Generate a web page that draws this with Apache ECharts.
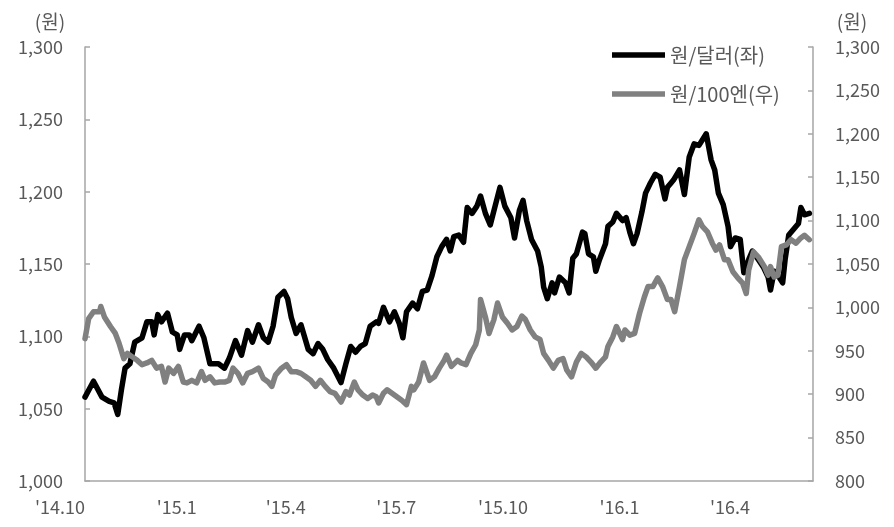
<!DOCTYPE html>
<html>
<head>
<meta charset="utf-8">
<script src="https://cdn.jsdelivr.net/npm/echarts@6/dist/echarts.min.js"></script>
<style>
html,body{margin:0;padding:0;background:#fff;}
#chart{width:894px;height:527px;}
</style>
</head>
<body>
<div id="chart"></div>
<script>
// ---- data ----
const seriesNames = ['원/달러(좌)', '원/100엔(우)'];

const usdDates = [
'2014-10-01','2014-10-08','2014-10-15','2014-10-21','2014-10-25','2014-10-28','2014-10-31','2014-11-03','2014-11-07','2014-11-11',
'2014-11-17','2014-11-21','2014-11-25','2014-11-27','2014-11-30','2014-12-03','2014-12-08','2014-12-12','2014-12-16','2014-12-18',
'2014-12-22','2014-12-26','2014-12-28','2015-01-03','2015-01-07','2015-01-12','2015-01-19','2015-01-24','2015-01-28','2015-02-02',
'2015-02-07','2015-02-12','2015-02-16','2015-02-21','2015-02-25','2015-03-01','2015-03-05','2015-03-09','2015-03-14','2015-03-17',
'2015-03-20','2015-03-24','2015-03-28','2015-04-03','2015-04-07','2015-04-11','2015-04-15','2015-04-19','2015-04-24','2015-04-30',
'2015-05-04','2015-05-08','2015-05-12','2015-05-16','2015-05-20','2015-05-24','2015-05-29','2015-05-31','2015-06-04','2015-06-09',
'2015-06-13','2015-06-17','2015-06-20','2015-06-23','2015-06-28','2015-07-02','2015-07-06','2015-07-10','2015-07-14','2015-07-18',
'2015-07-22','2015-07-26','2015-07-29','2015-08-01','2015-08-05','2015-08-09','2015-08-12','2015-08-16','2015-08-20','2015-08-23',
'2015-08-27','2015-08-31','2015-09-04','2015-09-08','2015-09-12','2015-09-17','2015-09-20','2015-09-24','2015-09-27','2015-09-30',
'2015-10-04','2015-10-09','2015-10-12','2015-10-14','2015-10-17','2015-10-21','2015-10-23','2015-10-27','2015-11-01','2015-11-04',
'2015-11-07','2015-11-10','2015-11-15','2015-11-17','2015-11-20','2015-11-24','2015-11-26','2015-11-29','2015-12-04','2015-12-06',
'2015-12-10','2015-12-13','2015-12-18','2015-12-21','2015-12-24','2015-12-27','2015-12-30','2016-01-03','2016-01-06','2016-01-10',
'2016-01-14','2016-01-18','2016-01-22','2016-01-24','2016-01-27','2016-01-29','2016-02-03','2016-02-07','2016-02-11','2016-02-15',
'2016-02-19','2016-02-25','2016-02-29','2016-03-03','2016-03-06','2016-03-10','2016-03-14','2016-03-16','2016-03-20','2016-03-24',
'2016-03-27','2016-03-31','2016-04-03','2016-04-08','2016-04-12','2016-04-16','2016-04-18','2016-04-21','2016-04-25','2016-04-28',
'2016-04-30','2016-05-03','2016-05-07','2016-05-11','2016-05-13','2016-05-16','2016-05-20'
];
const usdValues = [
1058,1069,1058,1055,1054,1046,1063,1078,1081,1096,
1099,1110,1110,1101,1115,1110,1116,1103,1101,1091,
1101,1101,1097,1107,1099,1081,1081,1078,1085,1097,
1087,1104,1096,1108,1099,1096,1107,1127,1131,1126,
1113,1102,1108,1091,1088,1095,1091,1084,1078,1068,
1081,1093,1089,1093,1095,1107,1110,1109,1120,1110,
1117,1109,1099,1117,1123,1119,1131,1132,1142,1155,
1162,1167,1159,1169,1170,1165,1189,1185,1190,1197,
1185,1177,1190,1203,1190,1182,1168,1187,1194,1180,
1167,1159,1148,1134,1126,1137,1130,1141,1137,1130,
1154,1157,1172,1171,1157,1155,1145,1153,1164,1176,
1179,1185,1180,1182,1172,1164,1171,1186,1199,1206,
1212,1210,1195,1203,1206,1208,1215,1198,1224,1233,
1232,1240,1222,1215,1199,1191,1176,1162,1168,1167,
1144,1153,1159,1153,1148,1141,1132,1145,1141,1137,
1153,1170,1174,1178,1189,1184,1185
];

const jpyDates = [
'2014-10-01','2014-10-04','2014-10-08','2014-10-13','2014-10-14','2014-10-17','2014-10-22','2014-10-26','2014-10-29','2014-11-02',
'2014-11-05','2014-11-09','2014-11-13','2014-11-17','2014-11-21','2014-11-25','2014-11-29','2014-12-03','2014-12-06','2014-12-09',
'2014-12-13','2014-12-17','2014-12-21','2014-12-24','2014-12-28','2015-01-01','2015-01-05','2015-01-08','2015-01-12','2015-01-16',
'2015-01-20','2015-01-24','2015-01-28','2015-01-31','2015-02-04','2015-02-08','2015-02-12','2015-02-16','2015-02-21','2015-02-25',
'2015-03-01','2015-03-04','2015-03-07','2015-03-12','2015-03-16','2015-03-20','2015-03-24','2015-03-28','2015-04-01','2015-04-05',
'2015-04-09','2015-04-13','2015-04-17','2015-04-21','2015-04-25','2015-04-30','2015-05-04','2015-05-07','2015-05-11','2015-05-14',
'2015-05-18','2015-05-22','2015-05-26','2015-05-29','2015-05-31','2015-06-04','2015-06-07','2015-06-11','2015-06-15','2015-06-19',
'2015-06-23','2015-06-27','2015-06-29','2015-07-03','2015-07-07','2015-07-12','2015-07-16','2015-07-20','2015-07-24','2015-07-26',
'2015-07-30','2015-08-04','2015-08-07','2015-08-11','2015-08-15','2015-08-19','2015-08-22','2015-08-23','2015-08-27','2015-08-30',
'2015-09-03','2015-09-06','2015-09-10','2015-09-14','2015-09-18','2015-09-22','2015-09-26','2015-09-29','2015-10-03','2015-10-07',
'2015-10-11','2015-10-14','2015-10-18','2015-10-22','2015-10-26','2015-10-30','2015-11-02','2015-11-06','2015-11-10','2015-11-14',
'2015-11-18','2015-11-22','2015-11-26','2015-11-30','2015-12-04','2015-12-06','2015-12-10','2015-12-13','2015-12-18','2015-12-20',
'2015-12-24','2015-12-28','2016-01-01','2016-01-05','2016-01-08','2016-01-12','2016-01-16','2016-01-20','2016-01-24','2016-01-27',
'2016-01-30','2016-02-03','2016-02-07','2016-02-11','2016-02-15','2016-02-19','2016-02-22','2016-02-26','2016-03-01','2016-03-04',
'2016-03-07','2016-03-11','2016-03-14','2016-03-18','2016-03-22','2016-03-26','2016-03-29','2016-03-31','2016-04-04','2016-04-08',
'2016-04-13','2016-04-16','2016-04-18','2016-04-21','2016-04-24','2016-04-27','2016-05-01','2016-05-05','2016-05-09','2016-05-13',
'2016-05-16','2016-05-20'
];
const jpyValues = [
964,987,995,995,1001,989,978,970,959,941,
947,943,939,934,936,939,930,932,914,930,
924,932,914,913,916,913,926,916,920,913,
914,914,916,930,924,913,924,926,930,918,
914,909,922,930,934,926,926,924,920,916,
909,916,909,903,901,891,903,899,914,905,
899,895,899,897,890,901,905,901,897,893,
888,909,905,914,936,916,920,930,939,945,
932,939,936,934,947,957,974,1009,989,970,
986,1005,989,982,974,978,990,986,974,966,
963,947,939,930,939,941,928,920,937,947,
943,937,930,937,943,955,966,978,963,974,
968,970,993,1012,1024,1024,1034,1024,1009,1009,
995,1024,1055,1070,1085,1101,1093,1087,1074,1066,
1072,1055,1055,1041,1034,1028,1016,1043,1064,1058,
1047,1037,1047,1035,1037,1070,1072,1078,1074,1080,
1083,1078
];

const xStart = '2014-10-01';
const xEnd = '2016-05-23';
const tickDates = ['2014-10-01','2015-01-01','2015-04-01','2015-07-01','2015-10-01','2016-01-01','2016-04-01'];
const tickLabels = ["'14.10","'15.1","'15.4","'15.7","'15.10","'16.1","'16.4"];
const leftMin = 1000, leftMax = 1300, leftStep = 50;
const rightMin = 800, rightMax = 1300, rightStep = 50;
const unitLabel = '(원)';

// ---- chart ----
function toTime(s){
  const p = s.split('-').map(Number);
  return Date.UTC(p[0], p[1]-1, p[2]);
}
const tickTimes = tickDates.map(toTime);
const usdData = usdDates.map((d,i)=>[toTime(d), usdValues[i]]);
const jpyData = jpyDates.map((d,i)=>[toTime(d), jpyValues[i]]);

const FONT = '"Noto Sans CJK KR", "Noto Sans", sans-serif';
const TXT = '#595959';
const AXIS = '#a6a6a6';
const fmtNum = v => Number(v).toLocaleString('en-US');

const chart = echarts.init(document.getElementById('chart'), null, {renderer:'canvas'});
chart.setOption({
  backgroundColor:'#ffffff',
  animation:false,
  textStyle:{fontFamily:FONT},
  grid:{left:85, right:81, top:47, bottom:46, containLabel:false},
  legend:{
    orient:'vertical',
    left:607, top:40,
    itemWidth:53, itemHeight:24, itemGap:19,
    textStyle:{fontFamily:FONT, fontSize:20, color:TXT},
    data:[
      {name:seriesNames[0], icon:'path://M0,0H10V1H0Z', itemStyle:{color:'#000000'}},
      {name:seriesNames[1], icon:'path://M0,0H10V1H0Z', itemStyle:{color:'#808080'}}
    ]
  },
  xAxis:{
    type:'value',
    min:toTime(xStart), max:toTime(xEnd),
    axisLine:{show:true, lineStyle:{color:AXIS, width:1.5}},
    axisTick:{show:false},
    splitLine:{show:false},
    axisLabel:{
      customValues:tickTimes,
      formatter:function(v){
        let best=0, bd=Infinity;
        tickTimes.forEach((t,i)=>{const d=Math.abs(t-v); if(d<bd){bd=d;best=i;}});
        return tickLabels[best];
      },
      align:'right',
      margin:17,
      fontFamily:FONT, fontSize:18, color:TXT
    }
  },
  yAxis:[
    {
      type:'value', position:'left',
      min:leftMin, max:leftMax, interval:leftStep,
      name:unitLabel, nameLocation:'end', nameGap:16,
      nameTextStyle:{fontFamily:FONT, fontSize:19, color:TXT, align:'center', padding:[0,70,0,0]},
      axisLine:{show:true, lineStyle:{color:AXIS, width:1.5}},
      axisTick:{show:true, inside:true, length:5, lineStyle:{color:AXIS, width:1.5}},
      splitLine:{show:false},
      axisLabel:{formatter:fmtNum, margin:22, fontFamily:FONT, fontSize:18, color:TXT}
    },
    {
      type:'value', position:'right',
      min:rightMin, max:rightMax, interval:rightStep,
      name:unitLabel, nameLocation:'end', nameGap:16,
      nameTextStyle:{fontFamily:FONT, fontSize:19, color:TXT, align:'center', padding:[0,0,0,78]},
      axisLine:{show:true, lineStyle:{color:AXIS, width:1.5}},
      axisTick:{show:true, inside:true, length:5, lineStyle:{color:AXIS, width:1.5}},
      splitLine:{show:false},
      axisLabel:{formatter:fmtNum, margin:22, fontFamily:FONT, fontSize:18, color:TXT}
    }
  ],
  series:[
    {
      name:seriesNames[0], type:'line', yAxisIndex:0,
      data:usdData, showSymbol:false, symbol:'none',
      lineStyle:{color:'#000000', width:5.5, join:'round', cap:'round'},
      itemStyle:{color:'#000000'}, z:2
    },
    {
      name:seriesNames[1], type:'line', yAxisIndex:1,
      data:jpyData, showSymbol:false, symbol:'none',
      lineStyle:{color:'#808080', width:5.5, join:'round', cap:'round'},
      itemStyle:{color:'#808080'}, z:3
    }
  ]
});
</script>
</body>
</html>
